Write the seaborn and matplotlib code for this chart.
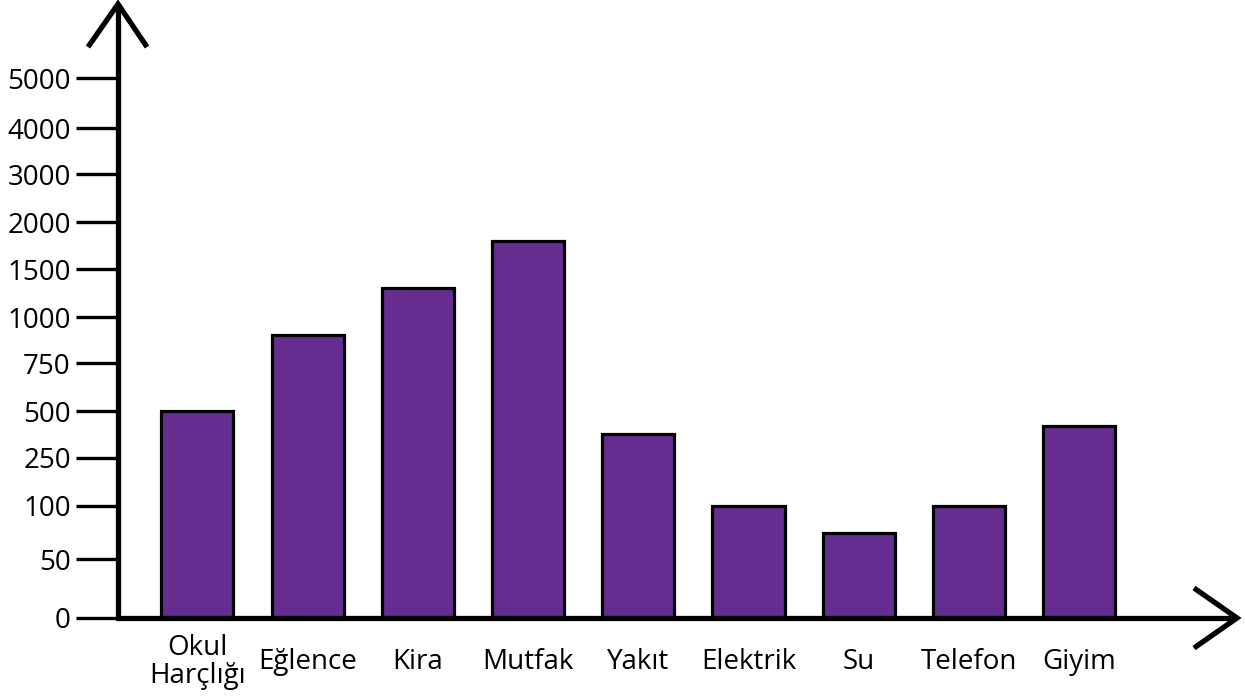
import numpy as np
import pandas as pd
import seaborn as sns
import matplotlib
import matplotlib.pyplot as plt
from matplotlib.lines import Line2D

matplotlib.use("Agg")

# veriler
kategoriler = ["Okul\nHarçlığı", "Eğlence", "Kira", "Mutfak", "Yakıt",
               "Elektrik", "Su", "Telefon", "Giyim"]
harcamalar = [500, 900, 1300, 1800, 380, 100, 75, 100, 420]
y_tikler = [0, 50, 100, 250, 500, 750, 1000, 1500, 2000, 3000, 4000, 5000]

# eşit aralıklı olmayan eksen: değer -> yükseklik (piksel) eşlemesi
olcek_deger = [0, 50, 100, 250, 500, 750, 1000, 1500, 2000, 3000, 4000, 5000, 7000]
olcek_konum = [0, 59, 112, 160, 207, 255, 301, 349, 396, 444, 490, 540, 640]


def ileri(v):
    return np.interp(v, olcek_deger, olcek_konum)


def geri(p):
    return np.interp(p, olcek_konum, olcek_deger)


sns.set_style("white")
plt.rcParams["font.family"] = ["Open Sans", "DejaVu Sans"]

W, H = 1245, 697
fig = plt.figure(figsize=(W / 100, H / 100), dpi=100)
ax = fig.add_axes([118 / W, (H - 618) / H, 1120 / W, 615 / H])

df = pd.DataFrame({"kategori": kategoriler, "tutar": harcamalar})
ax.set_yscale("function", functions=(ileri, geri))
sns.barplot(data=df, x="kategori", y="tutar", color="#652d8f", saturation=1,
            width=0.655, edgecolor="black", linewidth=2.3, ax=ax, zorder=2)

ax.set_xlim(-0.72, 9.44)
ax.set_ylim(0, 6500)
ax.set_yticks(y_tikler)
ax.set_yticklabels([str(t) for t in y_tikler])
ax.minorticks_off()
ax.set_xlabel("")
ax.set_ylabel("")
for s in ax.spines.values():
    s.set_visible(False)

ax.tick_params(axis="y", length=30, width=2.4, color="black", pad=4,
               labelsize=20, labelcolor="black", left=True)
ax.tick_params(axis="x", length=0, pad=32, labelsize=20, labelcolor="black")
for lbl in ax.get_xticklabels():
    lbl.set_linespacing(1.0)
    lbl.set_verticalalignment("center")


def px(x, y):
    return x / W, 1 - y / H


def cizgi(noktalar, lw=3.8):
    xs, ys = zip(*[px(x, y) for x, y in noktalar])
    fig.add_artist(Line2D(xs, ys, transform=fig.transFigure, color="black",
                          lw=lw, solid_joinstyle="miter", solid_capstyle="butt",
                          zorder=5))


# eksen çizgileri ve oklar
cizgi([(118, 620), (118, 4)])
cizgi([(116, 618), (1236, 618)])
cizgi([(88, 47), (118, 4), (147, 47)])
cizgi([(1194, 588), (1237, 618), (1194, 648)])

fig.savefig("out.png", dpi=100)
